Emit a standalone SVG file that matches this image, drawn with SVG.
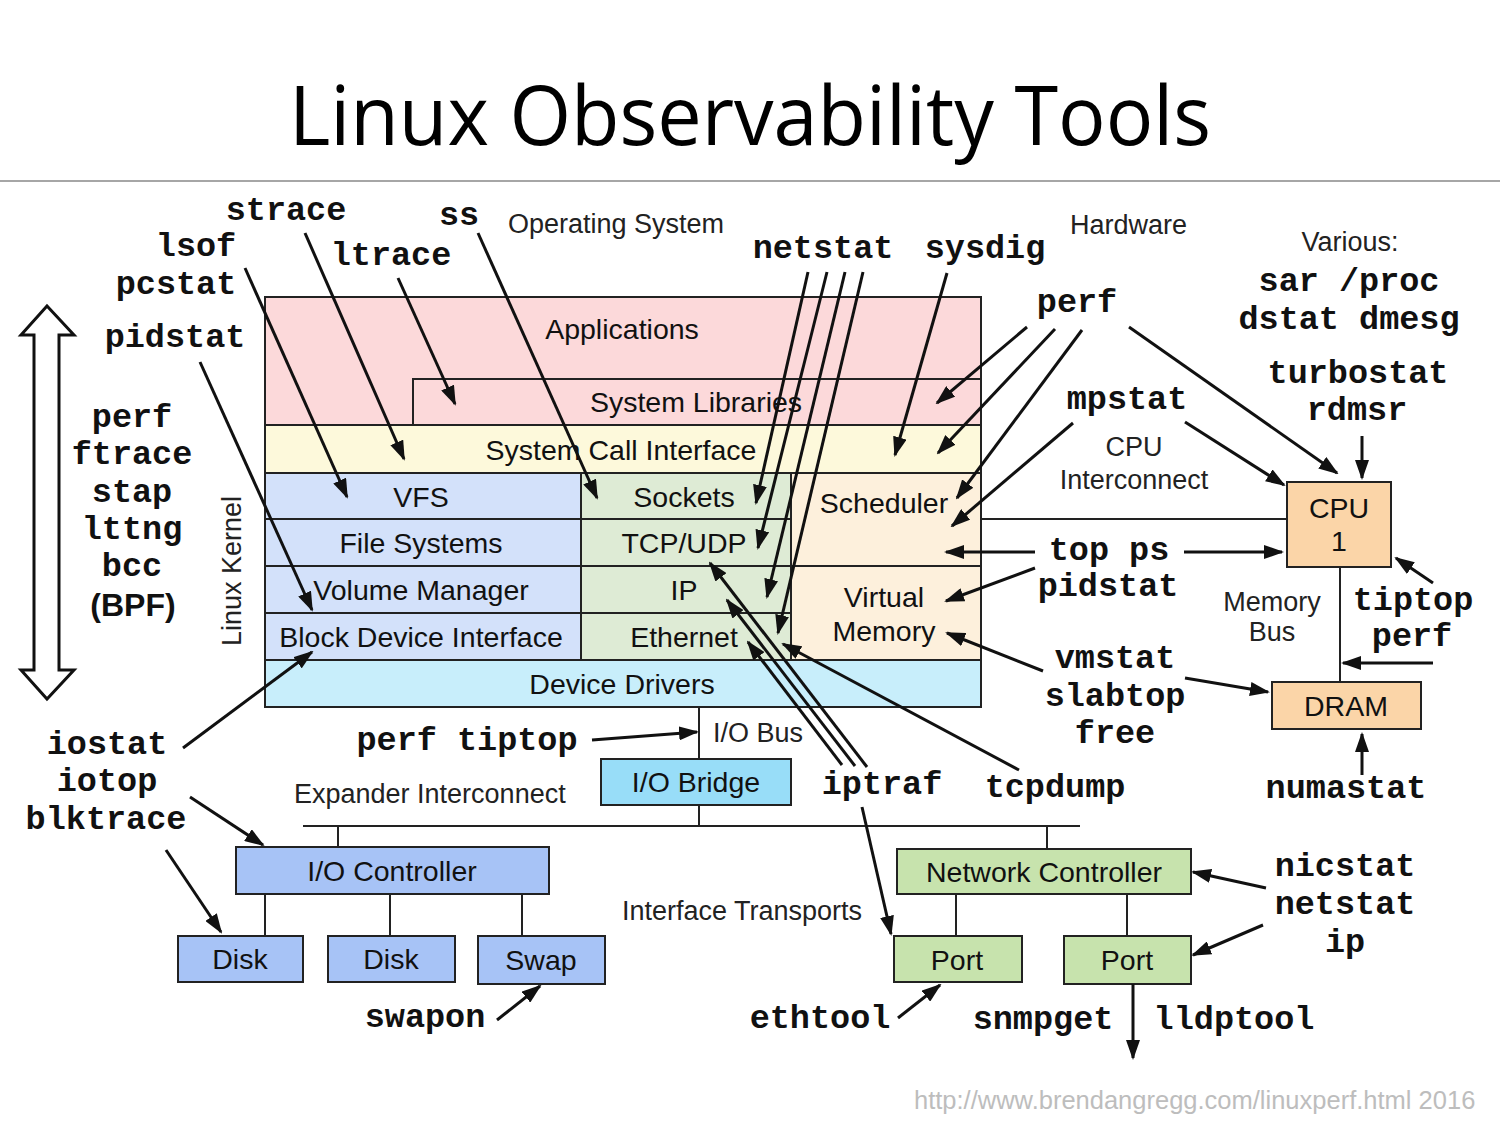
<svg xmlns="http://www.w3.org/2000/svg" width="1500" height="1125" viewBox="0 0 1500 1125">
<defs>
<style>
.box{stroke:#222;stroke-width:2}
.lbl{font-family:"Liberation Sans",Arial,sans-serif;font-size:28.5px;fill:#111;text-anchor:middle}
.note{font-family:"Liberation Sans",Arial,sans-serif;font-size:27px;fill:#222}
.tool{font-family:"Liberation Mono","Courier New",monospace;font-size:33.5px;font-weight:bold;fill:#111;text-anchor:middle}
.a{stroke:#111;stroke-width:3;fill:none;marker-end:url(#ah)}
.bus{stroke:#222;stroke-width:2;fill:none}
</style>
<marker id="ah" viewBox="0 0 10 10" refX="9" refY="5" markerWidth="20" markerHeight="14" markerUnits="userSpaceOnUse" orient="auto" preserveAspectRatio="none">
<path d="M0,0 L10,5 L0,10 z" fill="#111"/>
</marker>
</defs>
<rect width="1500" height="1125" fill="#fff"/>
<g id="title">
<text x="750" y="145" font-family="'Open Sans','Noto Sans',sans-serif" font-size="82" text-anchor="middle" textLength="922" lengthAdjust="spacingAndGlyphs" fill="#000">Linux Observability Tools</text>
<line x1="0" y1="181" x2="1500" y2="181" stroke="#888" stroke-width="1.5"/>
</g>

<g id="kernel-arrow">
<polygon points="47,306 74,335 59,335 59,670 74,670 47,699 21,670 34,670 34,335 21,335" fill="#fff" stroke="#111" stroke-width="3" stroke-linejoin="miter"/>
</g>

<g id="applications"><rect class="box" x="265" y="297" width="716" height="128" fill="#FCD9DA"/><text class="lbl" x="622" y="339">Applications</text></g>
<g id="system-libraries"><path class="box" d="M413,425 L413,379 L981,379" fill="none"/><text class="lbl" x="696" y="412">System Libraries</text></g>
<g id="syscall"><rect class="box" x="265" y="425" width="716" height="48" fill="#FDF9DB"/><text class="lbl" x="621" y="460">System Call Interface</text></g>
<g id="vfs"><rect class="box" x="265" y="473" width="316" height="46" fill="#D3E1FA"/><text class="lbl" x="421" y="507">VFS</text></g>
<g id="filesystems"><rect class="box" x="265" y="519" width="316" height="47" fill="#D3E1FA"/><text class="lbl" x="421" y="553">File Systems</text></g>
<g id="volume-manager"><rect class="box" x="265" y="566" width="316" height="47" fill="#D3E1FA"/><text class="lbl" x="421" y="600">Volume Manager</text></g>
<g id="block-device"><rect class="box" x="265" y="613" width="316" height="47" fill="#D3E1FA"/><text class="lbl" x="421" y="647">Block Device Interface</text></g>
<g id="sockets"><rect class="box" x="581" y="473" width="210" height="46" fill="#DEEBD5"/><text class="lbl" x="684" y="507">Sockets</text></g>
<g id="tcpudp"><rect class="box" x="581" y="519" width="210" height="47" fill="#DEEBD5"/><text class="lbl" x="684" y="553">TCP/UDP</text></g>
<g id="ip"><rect class="box" x="581" y="566" width="210" height="47" fill="#DEEBD5"/><text class="lbl" x="684" y="600">IP</text></g>
<g id="ethernet"><rect class="box" x="581" y="613" width="210" height="47" fill="#DEEBD5"/><text class="lbl" x="684" y="647">Ethernet</text></g>
<g id="scheduler"><rect class="box" x="791" y="473" width="190" height="93" fill="#FDF0DC"/><text class="lbl" x="884" y="513">Scheduler</text></g>
<g id="virtual-memory"><rect class="box" x="791" y="566" width="190" height="94" fill="#FDF0DC"/><text class="lbl" x="884" y="607">Virtual</text><text class="lbl" x="884" y="641">Memory</text></g>
<g id="device-drivers"><rect class="box" x="265" y="660" width="716" height="47" fill="#C8EEFB"/><text class="lbl" x="622" y="694">Device Drivers</text></g>

<g id="cpu"><rect class="box" x="1287" y="482" width="104" height="85" fill="#FBD5A8"/><text class="lbl" x="1339" y="518">CPU</text><text class="lbl" x="1339" y="551">1</text></g>
<g id="dram"><rect class="box" x="1272" y="682" width="149" height="47" fill="#FBD5A8"/><text class="lbl" x="1346" y="716">DRAM</text></g>
<g id="io-bridge"><rect class="box" x="601" y="759" width="190" height="46" fill="#98DDF8"/><text class="lbl" x="696" y="792">I/O Bridge</text></g>
<g id="io-controller"><rect class="box" x="236" y="847" width="313" height="47" fill="#A7C3F6"/><text class="lbl" x="392" y="881">I/O Controller</text></g>
<g id="disk1"><rect class="box" x="178" y="936" width="125" height="46" fill="#A7C3F6"/><text class="lbl" x="240" y="969">Disk</text></g>
<g id="disk2"><rect class="box" x="328" y="936" width="127" height="46" fill="#A7C3F6"/><text class="lbl" x="391" y="969">Disk</text></g>
<g id="swap"><rect class="box" x="478" y="936" width="127" height="48" fill="#A7C3F6"/><text class="lbl" x="541" y="970">Swap</text></g>
<g id="network-controller"><rect class="box" x="897" y="849" width="294" height="45" fill="#C7E3AD"/><text class="lbl" x="1044" y="882">Network Controller</text></g>
<g id="port1"><rect class="box" x="894" y="936" width="128" height="46" fill="#C7E3AD"/><text class="lbl" x="957" y="970">Port</text></g>
<g id="port2"><rect class="box" x="1064" y="936" width="127" height="48" fill="#C7E3AD"/><text class="lbl" x="1127" y="970">Port</text></g>

<g id="notes">
<text class="note" x="508" y="233">Operating System</text>
<text class="note" x="1070" y="234">Hardware</text>
<text class="note" x="1350" y="251" text-anchor="middle">Various:</text>
<text class="note" x="1134" y="456" text-anchor="middle">CPU</text>
<text class="note" x="1134" y="489" text-anchor="middle">Interconnect</text>
<text class="note" x="1272" y="611" text-anchor="middle">Memory</text>
<text class="note" x="1272" y="641" text-anchor="middle">Bus</text>
<text class="note" x="713" y="742">I/O Bus</text>
<text class="note" x="294" y="803">Expander Interconnect</text>
<text class="note" x="622" y="920">Interface Transports</text>
<text class="note" x="241" y="571" text-anchor="middle" transform="rotate(-90 241 571)">Linux Kernel</text>
<text x="914" y="1109" font-family="'Liberation Sans',Arial,sans-serif" font-size="25.5" fill="#BDBDBD">http://www.brendangregg.com/linuxperf.html 2016</text>
</g>

<g id="tools">
<text class="tool" x="286" y="220">strace</text>
<text class="tool" x="459" y="225">ss</text>
<text class="tool" x="196" y="256">lsof</text>
<text class="tool" x="176" y="294">pcstat</text>
<text class="tool" x="391" y="265">ltrace</text>
<text class="tool" x="175" y="347">pidstat</text>
<text class="tool" x="132" y="427">perf</text>
<text class="tool" x="132" y="464">ftrace</text>
<text class="tool" x="132" y="502">stap</text>
<text class="tool" x="132" y="539">lttng</text>
<text class="tool" x="132" y="576">bcc</text>
<text x="133" y="616" font-family="'Liberation Sans',Arial,sans-serif" font-size="32" font-weight="bold" text-anchor="middle" fill="#111">(BPF)</text>
<text class="tool" x="823" y="258">netstat</text>
<text class="tool" x="985" y="258">sysdig</text>
<text class="tool" x="1077" y="312">perf</text>
<text class="tool" x="1349" y="291">sar /proc</text>
<text class="tool" x="1349" y="329">dstat dmesg</text>
<text class="tool" x="1358" y="383">turbostat</text>
<text class="tool" x="1357" y="420">rdmsr</text>
<text class="tool" x="1127" y="409">mpstat</text>
<text class="tool" x="1109" y="560">top ps</text>
<text class="tool" x="1108" y="596">pidstat</text>
<text class="tool" x="1413" y="610">tiptop</text>
<text class="tool" x="1412" y="646">perf</text>
<text class="tool" x="1115" y="668">vmstat</text>
<text class="tool" x="1115" y="706">slabtop</text>
<text class="tool" x="1115" y="743">free</text>
<text class="tool" x="1346" y="798">numastat</text>
<text class="tool" x="107" y="754">iostat</text>
<text class="tool" x="107" y="791">iotop</text>
<text class="tool" x="106" y="829">blktrace</text>
<text class="tool" x="467" y="750">perf tiptop</text>
<text class="tool" x="882" y="794">iptraf</text>
<text class="tool" x="1055" y="797">tcpdump</text>
<text class="tool" x="1345" y="876">nicstat</text>
<text class="tool" x="1345" y="914">netstat</text>
<text class="tool" x="1345" y="952">ip</text>
<text class="tool" x="425" y="1027">swapon</text>
<text class="tool" x="820" y="1028">ethtool</text>
<text class="tool" x="1043" y="1029">snmpget</text>
<text class="tool" x="1234" y="1029">lldptool</text>
</g>

<g id="connectors">
<line class="bus" x1="981" y1="519" x2="1287" y2="519"/>
<line class="bus" x1="1340" y1="567" x2="1340" y2="682"/>
<line class="bus" x1="699" y1="707" x2="699" y2="759"/>
<line class="bus" x1="699" y1="805" x2="699" y2="826"/>
<line class="bus" x1="303" y1="826" x2="1080" y2="826"/>
<line class="bus" x1="338" y1="826" x2="338" y2="847"/>
<line class="bus" x1="1047" y1="826" x2="1047" y2="849"/>
<line class="bus" x1="265" y1="894" x2="265" y2="936"/>
<line class="bus" x1="390" y1="894" x2="390" y2="936"/>
<line class="bus" x1="522" y1="894" x2="522" y2="936"/>
<line class="bus" x1="956" y1="894" x2="956" y2="936"/>
<line class="bus" x1="1127" y1="894" x2="1127" y2="936"/>

<line class="a" x1="245" y1="268" x2="347" y2="497"/>
<line class="a" x1="305" y1="233" x2="404" y2="459"/>
<line class="a" x1="398" y1="278" x2="455" y2="404"/>
<line class="a" x1="200" y1="362" x2="312" y2="610"/>
<line class="a" x1="478" y1="233" x2="597" y2="498"/>
<line class="a" x1="808" y1="272" x2="756" y2="503"/>
<line class="a" x1="827" y1="272" x2="758" y2="548"/>
<line class="a" x1="845" y1="272" x2="767" y2="597"/>
<line class="a" x1="863" y1="272" x2="778" y2="633"/>
<line class="a" x1="947" y1="273" x2="895" y2="455"/>
<line class="a" x1="1027" y1="327" x2="937" y2="403"/>
<line class="a" x1="1055" y1="329" x2="938" y2="453"/>
<line class="a" x1="1082" y1="330" x2="957" y2="498"/>
<line class="a" x1="1129" y1="327" x2="1337" y2="473"/>
<line class="a" x1="1073" y1="423" x2="952" y2="526"/>
<line class="a" x1="1185" y1="422" x2="1284" y2="485"/>
<line class="a" x1="1362" y1="436" x2="1362" y2="478"/>
<line class="a" x1="1035" y1="552" x2="946" y2="552"/>
<line class="a" x1="1184" y1="552" x2="1282" y2="552"/>
<line class="a" x1="1035" y1="568" x2="946" y2="601"/>
<line class="a" x1="1043" y1="671" x2="947" y2="633"/>
<line class="a" x1="1185" y1="678" x2="1268" y2="692"/>
<line class="a" x1="1433" y1="583" x2="1396" y2="558"/>
<line class="a" x1="1433" y1="663" x2="1343" y2="663"/>
<line class="a" x1="1362" y1="775" x2="1362" y2="734"/>
<line class="a" x1="183" y1="748" x2="312" y2="652"/>
<line class="a" x1="190" y1="797" x2="263" y2="845"/>
<line class="a" x1="166" y1="850" x2="221" y2="932"/>
<line class="a" x1="497" y1="1020" x2="540" y2="986"/>
<line class="a" x1="592" y1="740" x2="697" y2="732"/>
<line class="a" x1="867" y1="767" x2="710" y2="563"/>
<line class="a" x1="855" y1="766" x2="727" y2="600"/>
<line class="a" x1="842" y1="765" x2="748" y2="642"/>
<line class="a" x1="1019" y1="770" x2="783" y2="644"/>
<line class="a" x1="862" y1="807" x2="891" y2="934"/>
<line class="a" x1="898" y1="1018" x2="940" y2="985"/>
<line class="a" x1="1266" y1="888" x2="1193" y2="872"/>
<line class="a" x1="1263" y1="925" x2="1193" y2="955"/>
<line class="a" x1="1133" y1="984" x2="1133" y2="1058"/>
</g>
</svg>
